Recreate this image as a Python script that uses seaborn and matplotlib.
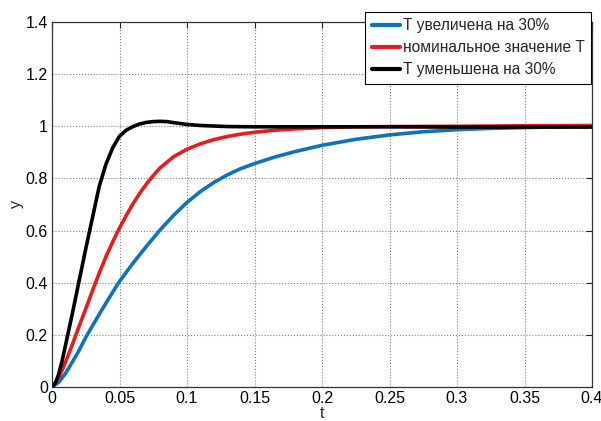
import matplotlib
matplotlib.use("Agg")
import matplotlib.pyplot as plt
import pandas as pd
import seaborn as sns

# Step responses y(t) for three values of the time constant T
t_slow = [0, 0.005, 0.01, 0.015, 0.02, 0.025, 0.03, 0.035, 0.04, 0.045, 0.05,
          0.06, 0.07, 0.08, 0.09, 0.1, 0.11, 0.12, 0.13, 0.14, 0.15, 0.165,
          0.18, 0.2, 0.225, 0.25, 0.275, 0.3, 0.325, 0.35, 0.375, 0.4]
y_slow = [0, 0.018, 0.052, 0.095, 0.14, 0.19, 0.235, 0.279, 0.322, 0.364, 0.405,
          0.475, 0.54, 0.602, 0.658, 0.708, 0.75, 0.785, 0.814, 0.838, 0.857, 0.882,
          0.903, 0.927, 0.95, 0.967, 0.979, 0.987, 0.992, 0.995, 0.998, 0.999]

t_nom = [0, 0.005, 0.01, 0.015, 0.02, 0.025, 0.03, 0.035, 0.04, 0.045, 0.05,
         0.055, 0.06, 0.065, 0.07, 0.075, 0.08, 0.09, 0.1, 0.11, 0.12, 0.13,
         0.14, 0.15, 0.165, 0.18, 0.2, 0.225, 0.25, 0.3, 0.35, 0.4]
y_nom = [0, 0.035, 0.095, 0.162, 0.232, 0.3, 0.37, 0.437, 0.5, 0.557, 0.61,
         0.658, 0.703, 0.743, 0.779, 0.811, 0.84, 0.883, 0.912, 0.933, 0.949, 0.961,
         0.97, 0.977, 0.985, 0.99, 0.995, 0.998, 0.999, 1.0, 1.002, 1.003]

t_fast = [0, 0.0025, 0.005, 0.0075, 0.01, 0.015, 0.02, 0.025, 0.03, 0.035, 0.04,
          0.045, 0.05, 0.055, 0.06, 0.065, 0.07, 0.075, 0.08, 0.085, 0.09, 0.1,
          0.11, 0.12, 0.13, 0.15, 0.2, 0.25, 0.3, 0.35, 0.4]
y_fast = [0, 0.015, 0.05, 0.1, 0.16, 0.28, 0.405, 0.53, 0.65, 0.77, 0.855,
          0.918, 0.962, 0.985, 0.999, 1.009, 1.015, 1.018, 1.019, 1.018, 1.014, 1.007,
          1.003, 1.001, 0.999, 0.998, 0.998, 0.998, 0.997, 0.997, 0.997]

labels = ["Т увеличена на 30%", "номинальное значение Т", "Т уменьшена на 30%"]
colors = ["#0f72bc", "#ea1b1d", "#000000"]

x_ticks = [0, 0.05, 0.1, 0.15, 0.2, 0.25, 0.3, 0.35, 0.4]
x_tick_labels = ["0", "0.05", "0.1", "0.15", "0.2", "0.25", "0.3", "0.35", "0.4"]
y_ticks = [0, 0.2, 0.4, 0.6, 0.8, 1.0, 1.2, 1.4]
y_tick_labels = ["0", "0.2", "0.4", "0.6", "0.8", "1", "1.2", "1.4"]

frames = []
for ts, ys, lab in zip([t_slow, t_nom, t_fast], [y_slow, y_nom, y_fast], labels):
    frames.append(pd.DataFrame({"t": ts, "y": ys, "series": lab}))
df = pd.concat(frames, ignore_index=True)

sns.set_style("white")
plt.rcParams["font.family"] = ["Liberation Sans", "DejaVu Sans"]

fig = plt.figure(figsize=(6.01, 4.21), dpi=100)
ax = fig.add_axes([52 / 601, 34 / 421, 540 / 601, 365 / 421])

sns.lineplot(data=df, x="t", y="y", hue="series", hue_order=labels,
             palette=dict(zip(labels, colors)), linewidth=2.6,
             estimator=None, sort=False, ax=ax)

ax.set_xlim(0, 0.4)
ax.set_ylim(0, 1.4)
ax.set_xticks(x_ticks)
ax.set_xticklabels(x_tick_labels)
ax.set_yticks(y_ticks)
ax.set_yticklabels(y_tick_labels)
ax.grid(True, linestyle=":", color="#808080", linewidth=0.8)
ax.tick_params(direction="in", top=True, right=True, length=4, width=0.8,
               labelsize=11.5, pad=3, colors="#222222", labelcolor="black")
for sp in ax.spines.values():
    sp.set_visible(True)
    sp.set_color("#333333")
    sp.set_linewidth(0.9)

ax.set_xlabel("t", fontsize=11.5, labelpad=0)
ax.set_ylabel("y", fontsize=11.5, labelpad=1)

leg = ax.legend(loc="upper right", bbox_to_anchor=(0.998, 1.027),
                borderaxespad=0, fancybox=False, frameon=True,
                fontsize=11.2, handlelength=1.8, handletextpad=0.2,
                labelspacing=0.45, borderpad=0.4)
leg.get_frame().set_edgecolor("black")
leg.get_frame().set_linewidth(0.8)
leg.get_frame().set_alpha(1)
for line in leg.get_lines():
    line.set_linewidth(3)

fig.savefig("out.png", dpi=100, facecolor="white")
